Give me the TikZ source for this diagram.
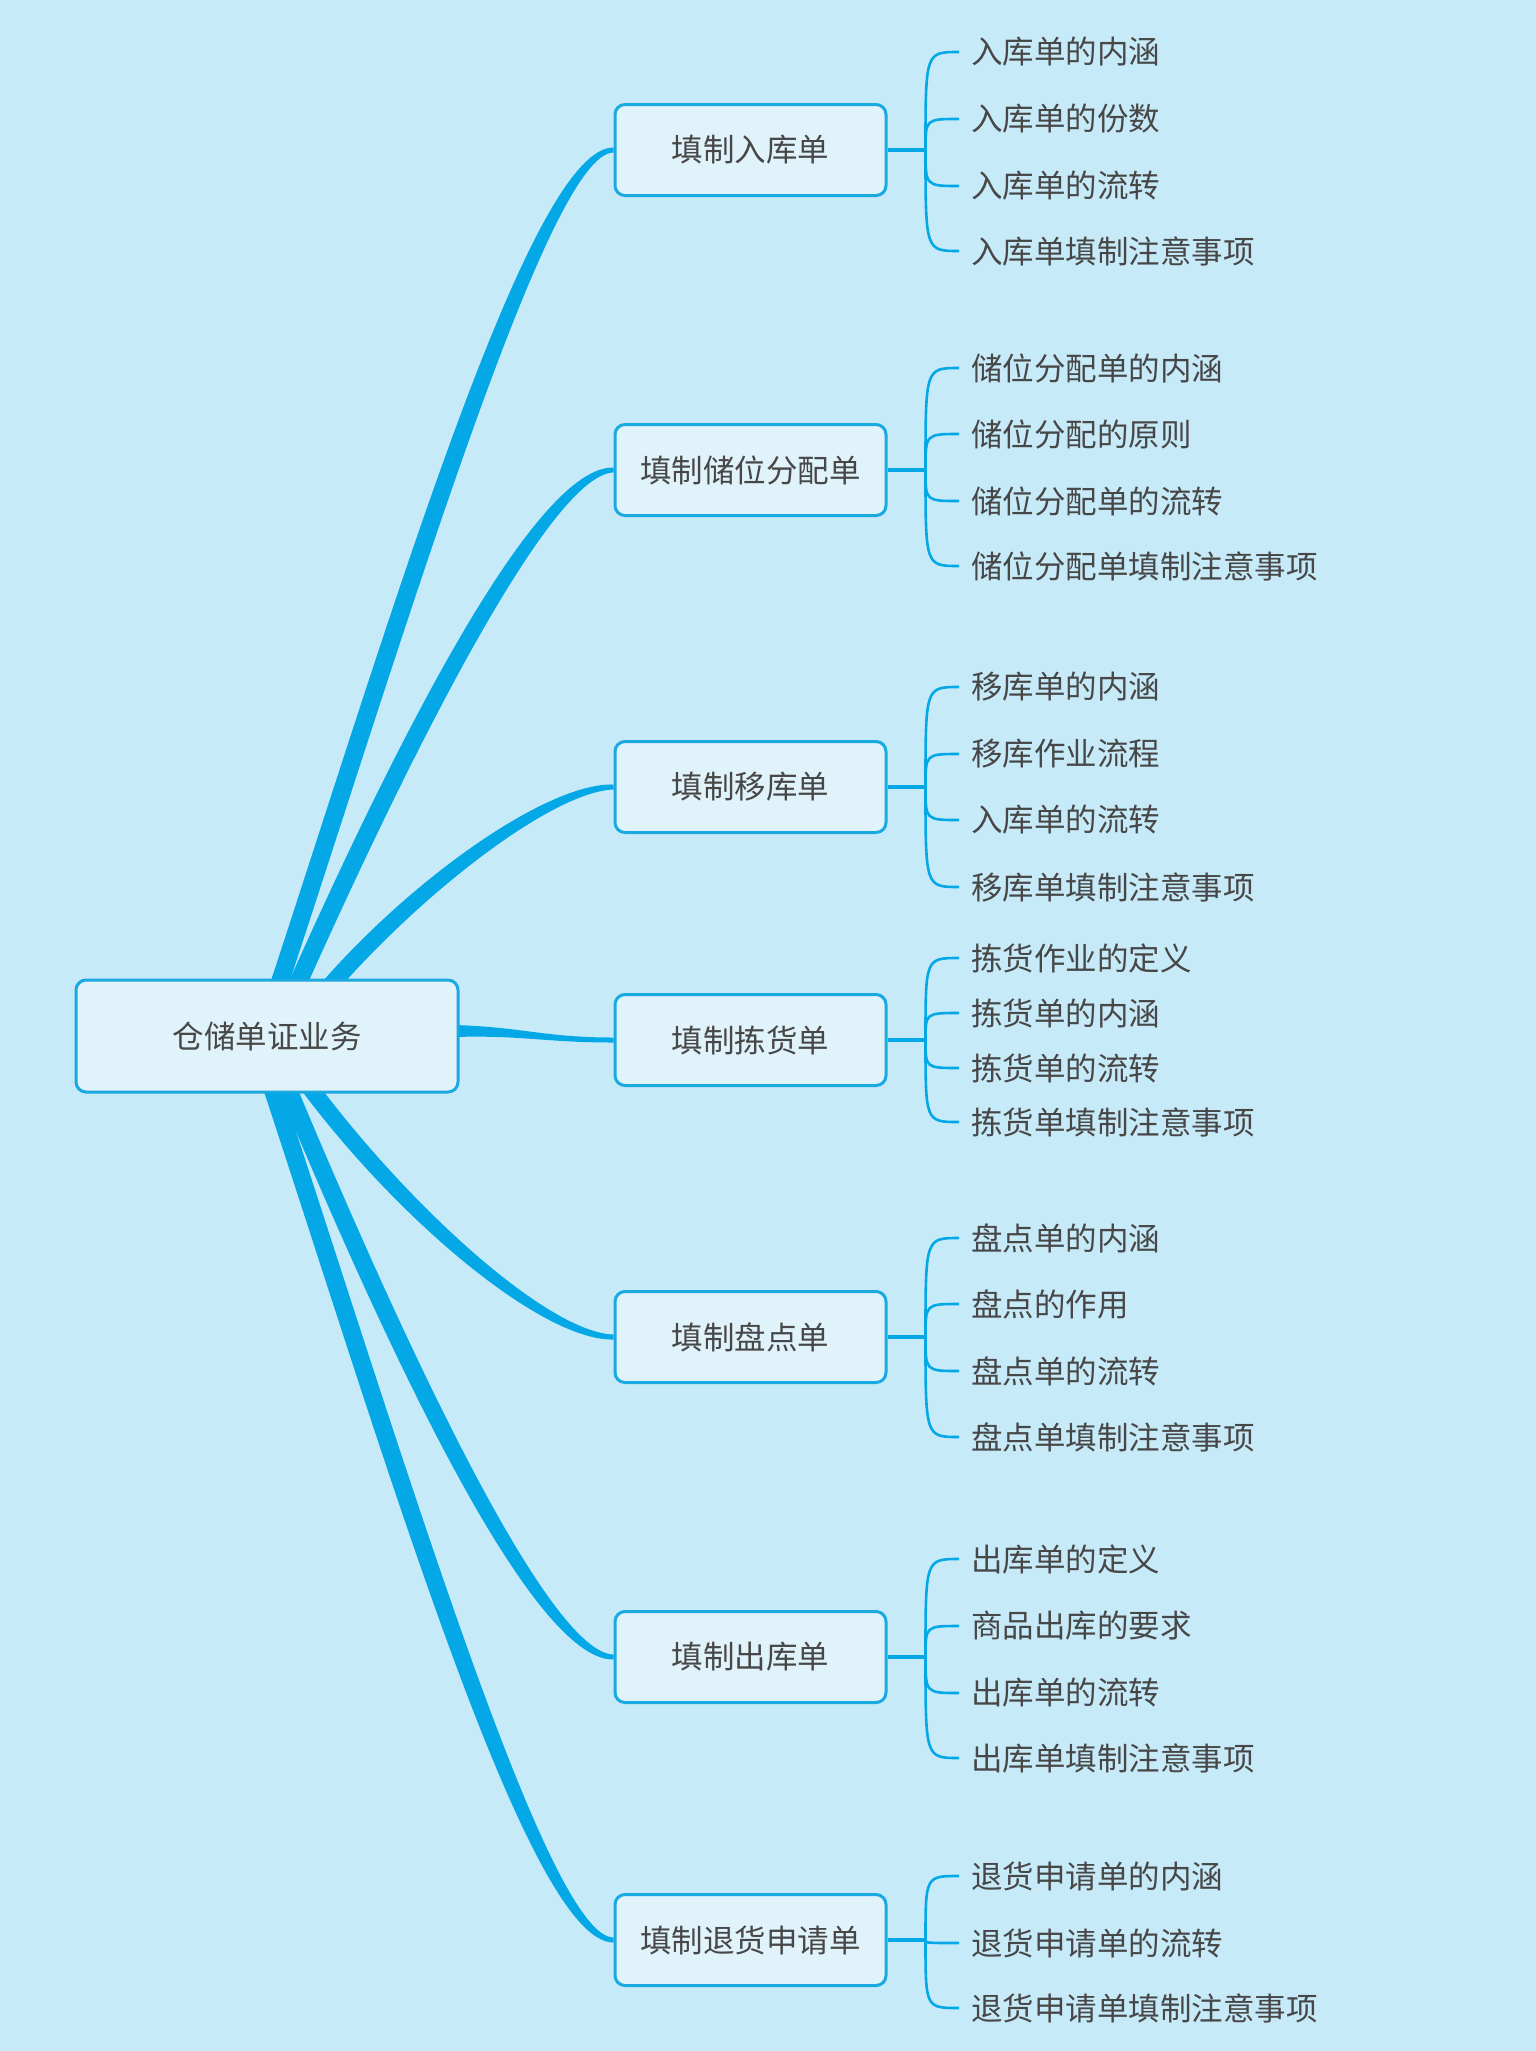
\documentclass[tikz,border=0pt]{standalone}
\usepackage{fontspec}
\setmainfont{Noto Sans CJK SC}
\usetikzlibrary{calc}
\definecolor{bgc}{HTML}{C7EAF9}
\definecolor{boxc}{HTML}{1BA9E1}
\definecolor{boxfill}{HTML}{E0F3FB}
\definecolor{linec}{HTML}{05A8E6}
\definecolor{txt}{HTML}{474747}
\pgfdeclarelayer{bgl}
\pgfdeclarelayer{edges}
\pgfsetlayers{bgl,edges,main}
\tikzset{
  rootbox/.style={draw=boxc, fill=boxfill, line width=3pt, rounded corners=10pt,
    minimum width=382pt, minimum height=112pt, font=\fontsize{31.5}{36}\selectfont, text=txt},
  subbox/.style={draw=boxc, fill=boxfill, line width=3pt, rounded corners=10pt,
    minimum width=271pt, minimum height=91pt, font=\fontsize{31.5}{36}\selectfont, text=txt},
  leaf/.style={anchor=west, inner sep=0pt, font=\fontsize{31.5}{36}\selectfont, text=txt},
  twig/.style={draw=linec, line width=2.6pt},
  trunk/.style={draw=linec, line width=3.4pt},
  branch/.style={fill=linec}
}
% #1 start, #2 end, #3 #4 fractions for first control, #5 half-width at start, #6 half-width at 2nd control
\newcommand\taper[6]{%
  \fill[branch] let \p1=(#1), \p2=(#2), \n1={\x2-\x1}, \n2={\y2-\y1},
    \p3=({\x1+#3*\n1},{\y1+#4*\n2}), \p4=({\x2-0.22*\n1},\y2),
    \n3={atan2(\y3-\y1,\x3-\x1)}, \n4={atan2(\y4-\y3,\x4-\x3)} in
   ({\x1-#5*sin(\n3)},{\y1+#5*cos(\n3)}) .. controls ({\x3-#5*sin(\n3)},{\y3+#5*cos(\n3)}) and ({\x4-#6*sin(\n4)},{\y4+#6*cos(\n4)}) .. (\x2,{\y2+2.5})
   -- (\x2,{\y2-2.5}) .. controls ({\x4+#6*sin(\n4)},{\y4-#6*cos(\n4)}) and ({\x3+#5*sin(\n3)},{\y3-#5*cos(\n3)}) .. ({\x1+#5*sin(\n3)},{\y1-#5*cos(\n3)}) -- cycle;}
\begin{document}
\begin{tikzpicture}[x=1pt,y=-1pt]
\begin{pgfonlayer}{bgl}
\fill[bgc] (0,0) rectangle (1536,2051);
\end{pgfonlayer}
\useasboundingbox (0,0) rectangle (1536,2051);

\node[rootbox] (root) at (267,1036) {仓储单证业务};
\foreach \g/\cy/\name in {1/150/填制入库单, 2/470/填制储位分配单, 3/787/填制移库单,
  4/1040/填制拣货单, 5/1337/填制盘点单, 6/1657/填制出库单, 7/1940/填制退货申请单}{
  \node[subbox] (b\g) at (750.5,\cy) {\name};
  \coordinate (f\g) at ($(b\g.east)+(38,0)$);
  \draw[trunk] (b\g.east) -- (f\g);
}

\coordinate (s1) at ($(root.north west)+(204,8)$);
\coordinate (s2) at ($(root.north west)+(222,8)$);
\coordinate (s3) at ($(root.north west)+(255,8)$);
\coordinate (s5) at ($(root.south west)+(234,-8)$);
\coordinate (s6) at ($(root.south west)+(212,-8)$);
\coordinate (s7) at ($(root.south west)+(197,-8)$);
\coordinate (s4) at ($(root.east)+(-6,-5)$);

\begin{pgfonlayer}{edges}
\taper{s1}{b1.west}{0.37}{0.45}{9}{10}
\taper{s2}{b2.west}{0.35}{0.48}{9}{9}
\taper{s3}{b3.west}{0.32}{0.52}{8.5}{5.5}
\taper{s5}{b5.west}{0.32}{0.52}{8.5}{5.5}
\taper{s6}{b6.west}{0.35}{0.48}{9}{9}
\taper{s7}{b7.west}{0.37}{0.45}{9}{10}
\fill[branch] ($(s4)+(0,-6)$) .. controls ($(s4)+(70,-4)$) and ($(b4.west)+(-70,-2.5)$) .. ($(b4.west)+(0,-2.5)$)
  -- ($(b4.west)+(0,2.5)$) .. controls ($(b4.west)+(-70,2.5)$) and ($(s4)+(70,4)$) .. ($(s4)+(0,6)$) -- cycle;
\end{pgfonlayer}

\foreach \g/\i/\y/\t in {
  1/1/52/入库单的内涵, 1/2/119/入库单的份数, 1/3/186/入库单的流转, 1/4/251/入库单填制注意事项,
  2/1/368/储位分配单的内涵, 2/2/434/储位分配的原则, 2/3/501/储位分配单的流转, 2/4/566/储位分配单填制注意事项,
  3/1/687/移库单的内涵, 3/2/754/移库作业流程, 3/3/820/入库单的流转, 3/4/887/移库单填制注意事项,
  4/1/958/拣货作业的定义, 4/2/1013/拣货单的内涵, 4/3/1068/拣货单的流转, 4/4/1122/拣货单填制注意事项,
  5/1/1238/盘点单的内涵, 5/2/1304/盘点的作用, 5/3/1371/盘点单的流转, 5/4/1437/盘点单填制注意事项,
  6/1/1559/出库单的定义, 6/2/1626/商品出库的要求, 6/3/1693/出库单的流转, 6/4/1758/出库单填制注意事项,
  7/1/1876/退货申请单的内涵, 7/2/1943/退货申请单的流转, 7/3/2008/退货申请单填制注意事项}{
  \node[leaf] (l\g\i) at (971,\y) {\t};
  \draw[twig] (f\g) .. controls (f\g |- l\g\i.west) and (f\g |- l\g\i.west) .. ($(l\g\i.west)+(-12,0)$);
}
\end{tikzpicture}
\end{document}
